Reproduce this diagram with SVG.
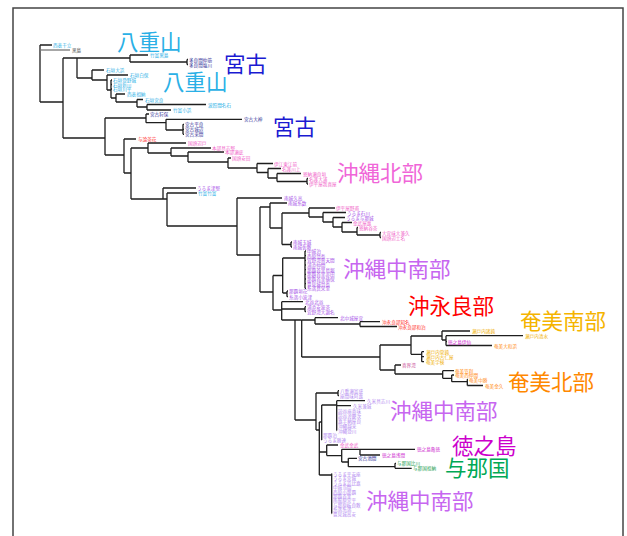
<svg xmlns="http://www.w3.org/2000/svg" width="627" height="536" viewBox="0 0 627 536">
<style>
.c{fill:none;stroke:#1e1e1e;stroke-width:1.3}
.g{stroke:#777}
text{font-family:"Noto Sans CJK JP","Noto Sans",sans-serif}
.l{font-size:4.6px;dominant-baseline:central}
.big{font-size:21.5px}
.yae{fill:#2ab0e6}.miy{fill:#343499}.nor{fill:#f062c8}.cen{fill:#a855e8}.cen2{fill:#b48cf0}
.red{fill:#ff2a2a}.asm{fill:#f0ae00}.anb{fill:#ff8a10}.tok{fill:#d030d0}.yon{fill:#22a050}.gry{fill:#555}.kik{fill:#cc5599}
</style>
<rect width="627" height="536" fill="#fff"/>
<rect x="13" y="8" width="610" height="540" fill="none" stroke="#444" stroke-width="1.5"/>
<g id="connectors">
<path class="c" d="M40 45V102M40 45H52M40 102H63"/>
<path class="c g" d="M40 50H70"/>
<path class="c" d="M63 58V138M63 58H77M63 138H105"/>
<path class="c" d="M77 58V78M77 58H130M77 78H92"/>
<path class="c" d="M130 55V62M130 55H148M130 62H187M187 59.5V64.5M187 59.5H188M187 64.5H188"/>
<path class="c" d="M92 70V80M92 70H104M92 80H107"/>
<path class="c" d="M107 75V90M107 75H128M107 90H111"/>
<path class="c" d="M111 80V98M111 80H112M111 84.5H112M111 89H112M111 98H116"/>
<path class="c" d="M116 94V102M116 94H125M116 102H137"/>
<path class="c" d="M137 99.5V107M137 99.5H143M137 107H147"/>
<path class="c" d="M147 104.5V110M147 104.5H206M147 110H171"/>
<path class="c" d="M105 118V155M105 118H146M105 155H124"/>
<path class="c" d="M146 114V122.7M146 114H149M146 122.7H166"/>
<path class="c" d="M166 119.3V130M166 119.3H242M166 130H183"/>
<path class="c" d="M183 124.3V134.3M183 124.3H184M183 129.3H184M183 134.3H184"/>
<path class="c" d="M124 139V173M124 139H136M124 173H131"/>
<path class="c" d="M131 148V199M131 148H148M131 199H163"/>
<path class="c" d="M148 143V153M148 143H186M148 153H171"/>
<path class="c" d="M171 148V156M171 148H211M171 156H188"/>
<path class="c" d="M188 152V162M188 152H224M188 162H228"/>
<path class="c" d="M228 158V168M228 158H231M228 168H257"/>
<path class="c" d="M257 163.5V172.5M257 163.5H273M257 172.5H268"/>
<path class="c" d="M268 168.5V178M268 168.5H281M268 178H277"/>
<path class="c" d="M277 173.5V181.5M277 173.5H301M277 181.5H307"/>
<path class="c" d="M307 178.5V184M307 178.5H308M307 184H308"/>
<path class="c" d="M163 188V199M163 188H196M163 199H167"/>
<path class="c" d="M167 193V226M167 193H197M167 226H237"/>
<path class="c" d="M237 198V255M237 198H282M237 255H260"/>
<path class="c" d="M260 207V292M260 207H270M260 292H273"/>
<path class="c" d="M270 203V228M270 203H287M270 228H282"/>
<path class="c" d="M282 213V244.5M282 213H309M282 244.5H291"/>
<path class="c" d="M291 242V247M291 242H292M291 247H292"/>
<path class="c" d="M309 208V217M309 208H335M309 217H323"/>
<path class="c" d="M323 212.5V222M323 212.5H346M323 222H333"/>
<path class="c" d="M333 217.5V227M333 217.5H345M333 227H342"/>
<path class="c" d="M342 222.5V232M342 222.5H352M342 232H357"/>
<path class="c" d="M357 227.5V235M357 227.5H358M357 235H380"/>
<path class="c" d="M380 232.5V237.5M380 232.5H381M380 237.5H381"/>
<path class="c" d="M273 275.5V310M273 275.5H282.7M273 310H281.7"/>
<path class="c" d="M282.7 258V293M282.7 258H305M282.7 293H287"/>
<path class="c" d="M305 251V288.3M305 251H306M305 255.7H306M305 260.3H306M305 265H306M305 269.7H306M305 274.3H306M305 279H306M305 283.7H306M305 288.3H306"/>
<path class="c" d="M287 291V296.7M287 291H288M287 296.7H288"/>
<path class="c" d="M281.7 301.7V320M281.7 301.7H303M281.7 309H305M281.7 320H295"/>
<path class="c" d="M305 306.7V311.7M305 306.7H306M305 311.7H306"/>
<path class="c" d="M295 320V420M295 320H301.7M295 420H316"/>
<path class="c" d="M301.7 320V357M301.7 320H315M301.7 357H380"/>
<path class="c" d="M315 317.7V324M315 317.7H338M315 324H360"/>
<path class="c" d="M360 321.7V326.5M360 321.7H380M360 326.5H397"/>
<path class="c" d="M380 345V370M380 345H411M380 370H395"/>
<path class="c" d="M411 336V354.3M411 336H442M411 354.3H421.7"/>
<path class="c" d="M442 331V340M442 331H470M442 340H446"/>
<path class="c" d="M446 335.7V345.5M446 335.7H523M446 341.7H447M446 345.5H492"/>
<path class="c" d="M421.7 351.7V361.7M421.7 351.7H424M421.7 356.7H424M421.7 361.7H424"/>
<path class="c" d="M395 365V374M395 365H401M395 374H442.7"/>
<path class="c" d="M442.7 370.7V378.3M442.7 370.7H454M442.7 378.3H451.7"/>
<path class="c" d="M451.7 375V381.7M451.7 375H454M451.7 381.7H467.3"/>
<path class="c" d="M467.3 379.3V385.5M467.3 379.3H468M467.3 385.5H483"/>
<path class="c" d="M316 393V430M316 393H338M316 430H319.3"/>
<path class="c" d="M338 390.7V395.7M338 390.7H339M338 395.7H339"/>
<path class="c" d="M319.3 422V475M319.3 422H321.7M319.3 452H326.7M319.3 475H331.7"/>
<path class="c" d="M321.7 405V440M321.7 405H336.7M321.7 435H322M321.7 440H322"/>
<path class="c" d="M336.7 400.7V430.5M336.7 400.7H365M336.7 405.7H351M336.7 410.7H337M336.7 415.7H337M336.7 420.7H337M336.7 425.7H337M336.7 430.5H337"/>
<path class="c" d="M326.7 445V455.6M326.7 445H338M326.7 455.6H341.7"/>
<path class="c" d="M341.7 449.3V462M341.7 449.3H360M341.7 462H348.3"/>
<path class="c" d="M360 449.3V455M360 449.3H415M360 455H380"/>
<path class="c" d="M348.3 458.3V466.7M348.3 458.3H357M348.3 466.7H395"/>
<path class="c" d="M395 463.3V468.3M395 463.3H396M395 468.3H411.7"/>
<path class="c" d="M331.7 473.5V513.6M331.7 474H332M331.7 478.4H332M331.7 482.8H332M331.7 487.2H332M331.7 491.6H332M331.7 496H332M331.7 500.4H332M331.7 504.8H332M331.7 509.2H332M331.7 513.6H332"/>
</g>
<g id="yaeyama-leaves">
<text class="l yae" x="53" y="45">西表干立</text>
<text class="l gry" x="72" y="50">黒島</text>
<text class="l yae" x="150" y="55">竹富黒島</text>
<text class="l miy" x="189" y="59.5">多良間仲筋</text>
<text class="l miy" x="189" y="64.5">多良間塩川</text>
<text class="l yae" x="106" y="70">石垣大浜</text>
<text class="l yae" x="130" y="75">石垣白保</text>
<text class="l yae" x="113" y="80">石垣登野城</text>
<text class="l yae" x="113" y="84.5">石垣新川</text>
<text class="l yae" x="113" y="89">石垣川平</text>
<text class="l yae" x="127" y="94">西表祖納</text>
<text class="l yae" x="145" y="99.5">石垣宮良</text>
<text class="l yae" x="208" y="104.5">波照間名石</text>
<text class="l yae" x="173" y="110">竹富小浜</text>
</g>
<g id="miyako-leaves">
<text class="l miy" x="150" y="114">宮古狩俣</text>
<text class="l miy" x="244" y="119.3">宮古大神</text>
<text class="l miy" x="185" y="124.3">宮古平良</text>
<text class="l miy" x="185" y="129.3">宮古城辺</text>
<text class="l miy" x="185" y="134.3">宮古来間</text>
</g>
<g id="north-leaves">
<text class="l red" x="138" y="139">与論茶花</text>
<text class="l nor" x="188" y="143">国頭辺戸</text>
<text class="l nor" x="212" y="148">本部具志堅</text>
<text class="l nor" x="225" y="152">本部瀬底</text>
<text class="l nor" x="232" y="158">国頭安田</text>
<text class="l nor" x="274" y="163.5">伊江東江前</text>
<text class="l nor" x="282" y="168.5">名護川上</text>
<text class="l nor" x="303" y="173.5">恩納瀬良垣</text>
<text class="l nor" x="309" y="178.5">名護大浦</text>
<text class="l nor" x="309" y="184">伊平屋我喜屋</text>
</g>
<g id="central-leaves-1">
<text class="l cen" x="197" y="188">うるま津堅</text>
<text class="l yae" x="198" y="193">竹富竹富</text>
<text class="l cen" x="284" y="198">南城久高</text>
<text class="l cen" x="288" y="203">南城糸数</text>
<text class="l nor" x="336" y="208">伊平屋野甫</text>
<text class="l cen" x="347" y="212.5">うるま石川</text>
<text class="l cen" x="346" y="217.5">うるま与那城</text>
<text class="l nor" x="353" y="222.5">金武屋嘉</text>
<text class="l nor" x="359" y="227.5">恩納谷茶</text>
<text class="l nor" x="382" y="232.5">大宜味大兼久</text>
<text class="l nor" x="382" y="237.5">国頭辺土名</text>
<text class="l cen" x="293" y="242">南城玉城</text>
<text class="l cen" x="293" y="247">南城佐敷</text>
<text class="l cen" x="307" y="251">中城泊</text>
<text class="l cen" x="307" y="255.7">西原翁長</text>
<text class="l cen" x="307" y="260.3">宜野湾普天間</text>
<text class="l cen" x="307" y="265">浦添仲間</text>
<text class="l cen" x="307" y="269.7">那覇首里鳥堀</text>
<text class="l cen" x="307" y="274.3">那覇首里赤田</text>
<text class="l cen" x="307" y="279">那覇首里儀保</text>
<text class="l cen" x="307" y="283.7">豊見城翁長</text>
<text class="l cen" x="307" y="288.3">糸満真栄里</text>
<text class="l cen" x="289" y="291">那覇垣花</text>
<text class="l cen" x="289" y="296.7">糸満小波津</text>
<text class="l cen" x="305" y="301.7">北谷北谷</text>
<text class="l cen" x="307" y="306.7">浦添安波茶</text>
<text class="l cen" x="307" y="311.7">宜野湾大謝名</text>
<text class="l cen" x="340" y="317.7">北中城屋宜</text>
</g>
<g id="okinoerabu-leaves">
<text class="l red" x="382" y="321.7">沖永良部知名</text>
<text class="l red" x="398" y="326.5">沖永良部和泊</text>
</g>
<g id="amami-leaves">
<text class="l asm" x="472" y="331">瀬戸内諸鈍</text>
<text class="l asm" x="525" y="335.7">瀬戸内清水</text>
<text class="l tok" x="448" y="341.7">徳之島伊仙</text>
<text class="l anb" x="494" y="345.5">奄美大和浜</text>
<text class="l asm" x="426" y="351.7">瀬戸内管鈍</text>
<text class="l asm" x="426" y="356.7">瀬戸内古仁屋</text>
<text class="l asm" x="426" y="361.7">奄美宇検</text>
<text class="l kik" x="402" y="365">喜界湾</text>
<text class="l anb" x="455" y="370.7">奄美笠利</text>
<text class="l anb" x="455" y="375.3">奄美西仲間</text>
<text class="l anb" x="469" y="379.5">奄美中勝</text>
<text class="l anb" x="485" y="385.5">奄美金久</text>
</g>
<g id="central-leaves-2">
<text class="l cen2" x="340" y="390.7">八重瀬富盛</text>
<text class="l cen2" x="340" y="395.7">座間味阿嘉</text>
<text class="l cen2" x="367" y="400.7">久米具志川</text>
<text class="l cen2" x="353" y="405.7">久米兼城</text>
<text class="l cen2" x="338" y="410.7">読谷座喜味</text>
<text class="l cen2" x="338" y="415.7">読谷渡慶次</text>
<text class="l cen2" x="338" y="420.7">嘉手納屋良</text>
<text class="l cen2" x="338" y="425.7">沖縄越来</text>
<text class="l cen2" x="338" y="430.5">沖縄登川</text>
<text class="l cen2" x="323" y="435">那覇泊</text>
<text class="l cen2" x="323" y="440">うるま勝連</text>
<text class="l nor" x="340" y="445">金武金武</text>
</g>
<g id="tokunoshima-yonaguni-leaves">
<text class="l tok" x="417" y="449.3">徳之島亀徳</text>
<text class="l tok" x="382" y="455">徳之島浅間</text>
<text class="l miy" x="358" y="458.3">宮古池間</text>
<text class="l yon" x="397" y="463.3">与那国比川</text>
<text class="l yon" x="413" y="468.3">与那国祖納</text>
</g>
<g id="central-leaves-3">
<text class="l cen2" x="333" y="474">うるま平安座</text>
<text class="l cen2" x="333" y="478.4">うるま宮城</text>
<text class="l cen2" x="333" y="482.8">うるま浜比嘉</text>
<text class="l cen2" x="333" y="487.2">中城当間</text>
<text class="l cen2" x="333" y="491.6">西原小那覇</text>
<text class="l cen2" x="333" y="496">那覇首里</text>
<text class="l cen2" x="333" y="500.4">南風原宮平</text>
<text class="l cen2" x="333" y="504.8">与那原板良敷</text>
<text class="l cen2" x="333" y="509.2">糸満糸満</text>
<text class="l cen2" x="333" y="513.6">豊見城高安</text>
</g>
<g id="group-labels">
<text class="big yae" x="117" y="50">八重山</text>
<text class="big yae" x="163" y="90">八重山</text>
<text class="big" fill="#1a1ad2" x="224" y="72">宮古</text>
<text class="big" fill="#1a1ad2" x="273" y="135">宮古</text>
<text class="big" fill="#f066d8" x="337" y="181">沖縄北部</text>
<text class="big" fill="#c766f0" x="343" y="277">沖縄中南部</text>
<text class="big" fill="#ff0000" x="408" y="314">沖永良部</text>
<text class="big" fill="#f5b400" x="520" y="329">奄美南部</text>
<text class="big" fill="#ff8800" x="508" y="390">奄美北部</text>
<text class="big" fill="#c766f0" x="390" y="419">沖縄中南部</text>
<text class="big" fill="#cc00cc" x="452" y="454">徳之島</text>
<text class="big" fill="#00a855" x="445" y="476">与那国</text>
<text class="big" fill="#c766f0" x="366" y="509">沖縄中南部</text>
</g>
</svg>
